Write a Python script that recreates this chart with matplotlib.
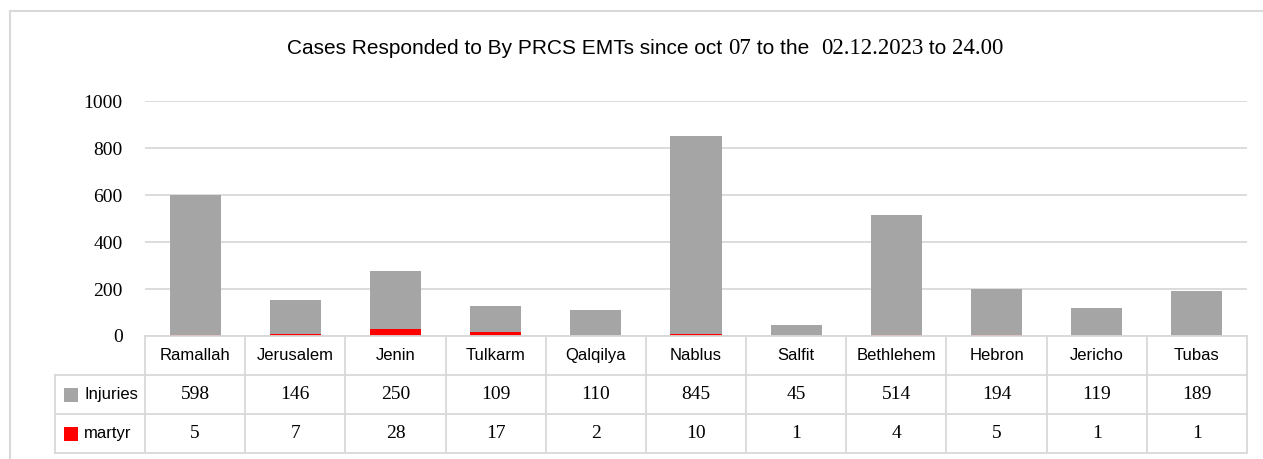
import matplotlib
matplotlib.use("Agg")
import matplotlib.pyplot as plt
from matplotlib.lines import Line2D
from matplotlib.patches import Rectangle

categories = ["Ramallah", "Jerusalem", "Jenin", "Tulkarm", "Qalqilya", "Nablus",
              "Salfit", "Bethlehem", "Hebron", "Jericho", "Tubas"]
injuries = [598, 146, 250, 109, 110, 845, 45, 514, 194, 119, 189]
martyr = [5, 7, 28, 17, 2, 10, 1, 4, 5, 1, 1]
series_names = ["Injuries", "martyr"]
yticks = [0, 200, 400, 600, 800, 1000]

GREY = "#A5A5A5"
RED = "#FF0000"
LINE = "#D9D9D9"
SANS = "Liberation Sans"
SERIF = "Liberation Serif"

W, H = 1263, 459
fig = plt.figure(figsize=(W / 100, H / 100), dpi=100)

def fx(px):
    return px / W

def fy(py):
    return 1 - py / H

# outer frame (top and left edges visible)
fig.add_artist(Line2D([fx(10), fx(10)], [fy(11), 0], color=LINE, lw=1.5, transform=fig.transFigure))
fig.add_artist(Line2D([fx(10), 1], [fy(11), fy(11)], color=LINE, lw=1.5, transform=fig.transFigure))

x0, x1 = 145, 1247
y_top, y_zero = 101.5, 336
ax = fig.add_axes([fx(x0), fy(y_zero), fx(x1 - x0), (y_zero - y_top) / H])
n = len(categories)
xs = list(range(n))
ax.bar(xs, martyr, width=0.51, color=RED, zorder=3)
ax.bar(xs, injuries, width=0.51, bottom=martyr, color=GREY, zorder=3)
ax.set_xlim(-0.5, n - 0.5)
ax.set_ylim(0, 1000)
ax.set_yticks(yticks)
ax.set_yticklabels([str(v) for v in yticks], fontfamily=SERIF, fontsize=14)
ax.tick_params(axis="y", length=0, pad=16)
ax.set_xticks([])
ax.grid(axis="y", color=LINE, lw=1.3, zorder=0)
for s in ax.spines.values():
    s.set_visible(False)
ax.set_facecolor("none")

# data table
row_h = 39
t_top = 336
t_bot = t_top + 3 * row_h
axt = fig.add_axes([fx(x0), fy(t_bot), fx(x1 - x0), (t_bot - t_top) / H])
axt.set_xlim(-0.5, n - 0.5)
axt.set_ylim(3, 0)
axt.axis("off")
col_w = (x1 - x0) / n
leg_left = -0.5 - (x0 - 55) / col_w
kw = dict(color=LINE, lw=1.3, clip_on=False)
axt.plot([-0.5, n - 0.5], [0, 0], **kw)
for r in (1, 2, 3):
    axt.plot([leg_left, n - 0.5], [r, r], **kw)
for i in range(n + 1):
    axt.plot([-0.5 + i, -0.5 + i], [0, 3], **kw)
axt.plot([leg_left, leg_left], [1, 3], **kw)

for i, c in enumerate(categories):
    axt.text(i, 0.5, c, ha="center", va="center", fontfamily=SANS, fontsize=12, clip_on=False)
    axt.text(i, 1.5, str(injuries[i]), ha="center", va="center", fontfamily=SERIF, fontsize=14, clip_on=False)
    axt.text(i, 2.5, str(martyr[i]), ha="center", va="center", fontfamily=SERIF, fontsize=14, clip_on=False)

sq = 14 / col_w
for r, (name, col) in enumerate(zip(series_names, [GREY, RED])):
    cy = 1.5 + r
    axt.add_patch(Rectangle((leg_left + 9 / col_w, cy - 7 / row_h), sq, 14 / row_h,
                            facecolor=col, edgecolor="none", clip_on=False))
    axt.text(leg_left + 29 / col_w, cy, name, ha="left", va="center",
             fontfamily=SANS, fontsize=12, clip_on=False)

# title with mixed fonts
pieces = [("Cases Responded to By PRCS EMTs since oct ", SANS),
          ("07", SERIF), (" to the  ", SANS), ("02.12.2023", SERIF),
          (" to ", SANS), ("24.00", SERIF)]
fig.canvas.draw()
renderer = fig.canvas.get_renderer()
texts = []
widths = []
for s, fam in pieces:
    t = fig.text(0, fy(49), s, fontfamily=fam, fontsize=15 if fam == SANS else 16.5,
                 ha="left", va="center")
    texts.append(t)
    widths.append(t.get_window_extent(renderer).width)
total = sum(widths)
start = 645.5 - total / 2
for t, w in zip(texts, widths):
    t.set_x(fx(start))
    start += w

fig.savefig("out.png", dpi=100)
